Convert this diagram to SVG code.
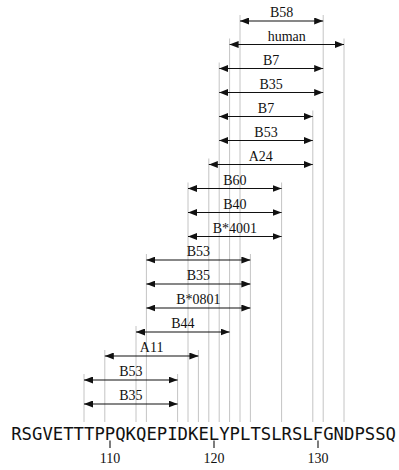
<svg xmlns="http://www.w3.org/2000/svg" width="399" height="470" viewBox="0 0 399 470">
<style>
.g{stroke:#c4c4c4;stroke-width:1;fill:none}
.a{stroke:#111;stroke-width:1.1;fill:none;marker-start:url(#ah);marker-end:url(#ah)}
.l{font-family:"Liberation Serif","Times New Roman",serif;font-size:14px;fill:#111;text-anchor:middle}
.seq{font-family:"DejaVu Sans Mono",monospace;font-size:17.28px;fill:#111}
.t{stroke:#111;stroke-width:1.1}
</style>
<defs>
<marker id="ah" markerUnits="userSpaceOnUse" markerWidth="9" markerHeight="7" refX="9" refY="3.5" orient="auto-start-reverse" viewBox="0 0 9 7">
<path d="M0,0 L9,3.5 L0,7 z" fill="#111"/>
</marker>
</defs>
<g id="gridlines">
<line class="g" x1="240" y1="15" x2="240" y2="422"/>
<line class="g" x1="323.2" y1="15" x2="323.2" y2="422"/>
<line class="g" x1="229.6" y1="38.5" x2="229.6" y2="422"/>
<line class="g" x1="344" y1="38.5" x2="344" y2="422"/>
<line class="g" x1="219.2" y1="62.5" x2="219.2" y2="422"/>
<line class="g" x1="312.8" y1="110.5" x2="312.8" y2="422"/>
<line class="g" x1="208.8" y1="158.5" x2="208.8" y2="422"/>
<line class="g" x1="188" y1="182.5" x2="188" y2="422"/>
<line class="g" x1="281.6" y1="182.5" x2="281.6" y2="422"/>
<line class="g" x1="146.4" y1="254" x2="146.4" y2="422"/>
<line class="g" x1="250.4" y1="254" x2="250.4" y2="422"/>
<line class="g" x1="136" y1="326" x2="136" y2="422"/>
<line class="g" x1="104.8" y1="350" x2="104.8" y2="422"/>
<line class="g" x1="198.4" y1="350" x2="198.4" y2="422"/>
<line class="g" x1="84" y1="374" x2="84" y2="422"/>
<line class="g" x1="177.6" y1="374" x2="177.6" y2="422"/>
</g>
<g id="connectors">
<line class="a" x1="240" y1="21" x2="323.2" y2="21"/>
<line class="a" x1="229.6" y1="44.5" x2="344" y2="44.5"/>
<line class="a" x1="219.2" y1="68.5" x2="323.2" y2="68.5"/>
<line class="a" x1="219.2" y1="92.5" x2="323.2" y2="92.5"/>
<line class="a" x1="219.2" y1="116.5" x2="312.8" y2="116.5"/>
<line class="a" x1="219.2" y1="140.5" x2="312.8" y2="140.5"/>
<line class="a" x1="208.8" y1="164.5" x2="312.8" y2="164.5"/>
<line class="a" x1="188" y1="188.5" x2="281.6" y2="188.5"/>
<line class="a" x1="188" y1="212.5" x2="281.6" y2="212.5"/>
<line class="a" x1="188" y1="236.5" x2="281.6" y2="236.5"/>
<line class="a" x1="146.4" y1="260" x2="250.4" y2="260"/>
<line class="a" x1="146.4" y1="284" x2="250.4" y2="284"/>
<line class="a" x1="146.4" y1="308" x2="250.4" y2="308"/>
<line class="a" x1="136" y1="332" x2="229.6" y2="332"/>
<line class="a" x1="104.8" y1="356" x2="198.4" y2="356"/>
<line class="a" x1="84" y1="380" x2="177.6" y2="380"/>
<line class="a" x1="84" y1="404" x2="177.6" y2="404"/>
</g>
<g id="labels">
<text class="l" x="281.6" y="17">B58</text>
<text class="l" x="286.8" y="40.5">human</text>
<text class="l" x="271.2" y="64.5">B7</text>
<text class="l" x="271.2" y="88.5">B35</text>
<text class="l" x="266" y="112.5">B7</text>
<text class="l" x="266" y="136.5">B53</text>
<text class="l" x="260.8" y="160.5">A24</text>
<text class="l" x="234.8" y="184.5">B60</text>
<text class="l" x="234.8" y="208.5">B40</text>
<text class="l" x="234.8" y="232.5">B*4001</text>
<text class="l" x="198.4" y="256">B53</text>
<text class="l" x="198.4" y="280">B35</text>
<text class="l" x="198.4" y="304">B*0801</text>
<text class="l" x="182.8" y="328">B44</text>
<text class="l" x="151.6" y="352">A11</text>
<text class="l" x="130.8" y="376">B53</text>
<text class="l" x="130.8" y="400">B35</text>
</g>
<g id="sequence">
<text class="seq" x="11.2" y="439.5" textLength="384.8" lengthAdjust="spacing">RSGVETTTPPQKQEPIDKELYPLTSLRSLFGNDPSSQ</text>
<line class="t" x1="110" y1="440.5" x2="110" y2="448"/>
<line class="t" x1="214" y1="440.5" x2="214" y2="448"/>
<line class="t" x1="318" y1="440.5" x2="318" y2="448"/>
<text class="l" x="110" y="463">110</text>
<text class="l" x="214" y="463">120</text>
<text class="l" x="318" y="463">130</text>
</g>
</svg>
